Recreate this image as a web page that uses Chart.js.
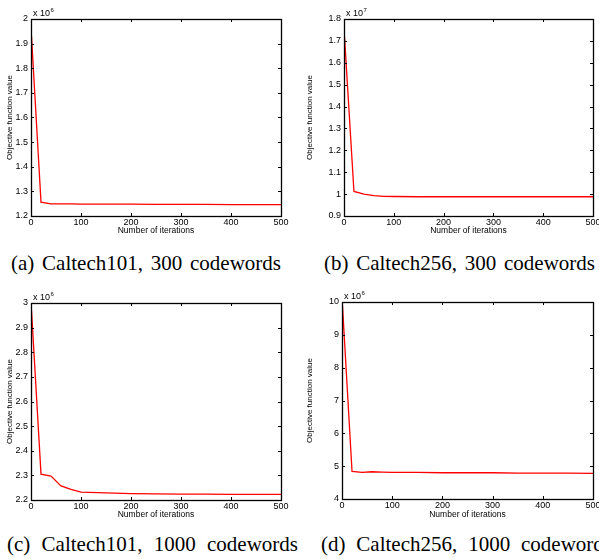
<!DOCTYPE html>
<html>
<head>
<meta charset="utf-8">
<script src="https://cdn.jsdelivr.net/npm/chart.js@4.4.1/dist/chart.umd.min.js"></script>
<style>
  html, body { margin: 0; padding: 0; background: #fff; }
  body { width: 599px; height: 559px; position: relative; overflow: hidden; }
  .panel { position: absolute; }
  .cap { position: absolute; font-family: "Liberation Serif", "Times New Roman", serif; font-size: 21px; line-height: 21px; color: #000; white-space: nowrap; }
</style>
</head>
<body>
<div class="panel" style="left:0;top:0;width:300px;height:245px"><canvas id="chartA"></canvas></div>
<div class="panel" style="left:300px;top:0;width:299px;height:245px"><canvas id="chartB"></canvas></div>
<div class="panel" style="left:0;top:284px;width:300px;height:245px"><canvas id="chartC"></canvas></div>
<div class="panel" style="left:300px;top:284px;width:299px;height:245px"><canvas id="chartD"></canvas></div>
<div class="cap" id="capA" style="left:11px;top:253px">(a) Caltech101, 300 codewords</div>
<div class="cap" id="capB" style="left:324px;top:253px">(b) Caltech256, 300 codewords</div>
<div class="cap" id="capC" style="left:7px;top:534px">(c) Caltech101, 1000 codewords</div>
<div class="cap" id="capD" style="left:321px;top:534px">(d) Caltech256, 1000 codewords</div>
<script>
// iteraciones (eje x)
const iterations = [1, 20, 40, 60, 80, 100, 150, 200, 250, 300, 350, 400, 450, 500];
const xTicks = [0, 100, 200, 300, 400, 500];

// valores de la funcion objetivo, en unidades del exponente de cada panel
const caltech101_300 = [1.931, 1.256, 1.249, 1.249, 1.249, 1.248, 1.248, 1.248, 1.247, 1.247, 1.247, 1.246, 1.246, 1.246]; // x 10^6
const caltech256_300 = [1.72, 1.012, 1.000, 0.993, 0.990, 0.989, 0.988, 0.988, 0.988, 0.988, 0.988, 0.988, 0.988, 0.988];   // x 10^7
const caltech101_1000 = [2.970, 2.305, 2.297, 2.257, 2.243, 2.232, 2.229, 2.226, 2.225, 2.224, 2.224, 2.223, 2.223, 2.223]; // x 10^6
const caltech256_1000 = [9.88, 4.84, 4.81, 4.83, 4.82, 4.81, 4.81, 4.80, 4.80, 4.80, 4.79, 4.79, 4.79, 4.78];             // x 10^6

// ticks del eje y
const ticksA = [1.2, 1.3, 1.4, 1.5, 1.6, 1.7, 1.8, 1.9, 2];
const ticksB = [0.9, 1, 1.1, 1.2, 1.3, 1.4, 1.5, 1.6, 1.7, 1.8];
const ticksC = [2.2, 2.3, 2.4, 2.5, 2.6, 2.7, 2.8, 2.9, 3];
const ticksD = [4, 5, 6, 7, 8, 9, 10];

Chart.defaults.font.family = "'Liberation Sans', Arial, sans-serif";
Chart.defaults.color = '#000';

// ajustar el espaciado de las leyendas al ancho del original
function fitCaption(id, width) {
    const el = document.getElementById(id);
    const natural = el.getBoundingClientRect().width;
    const spaces = el.textContent.split(' ').length - 1;
    el.style.wordSpacing = ((width - natural) / spaces) + 'px';
}
fitCaption('capA', 270);
fitCaption('capB', 271);
fitCaption('capC', 291);
fitCaption('capD', 291);

// marco estilo MATLAB con ticks hacia dentro y el exponente arriba
const matlabFrame = {
    id: 'matlabFrame',
    afterDraw(chart, args, opts) {
        const ctx = chart.ctx;
        const { left, right, top, bottom } = chart.chartArea;
        const xs = chart.scales.x, ys = chart.scales.y;
        const len = 3;
        ctx.save();
        ctx.strokeStyle = '#000';
        ctx.lineWidth = 1;
        ctx.beginPath();
        xs.ticks.forEach((t, i) => {
            const px = Math.round(xs.getPixelForTick(i)) + 0.5;
            ctx.moveTo(px, bottom); ctx.lineTo(px, bottom - len);
            ctx.moveTo(px, top); ctx.lineTo(px, top + len);
        });
        ys.ticks.forEach((t, i) => {
            const py = Math.round(ys.getPixelForTick(i)) + 0.5;
            ctx.moveTo(left, py); ctx.lineTo(left + len, py);
            ctx.moveTo(right, py); ctx.lineTo(right - len, py);
        });
        ctx.stroke();
        ctx.lineWidth = 1.3;
        ctx.strokeRect(Math.round(left) + 0.5, Math.round(top) + 0.5, Math.round(right - left), Math.round(bottom - top));
        // exponente
        ctx.fillStyle = '#000';
        ctx.textBaseline = 'alphabetic';
        ctx.font = "9px 'Liberation Sans', Arial, sans-serif";
        ctx.fillText('x 10', left + 2, top - 3);
        const w = ctx.measureText('x 10').width;
        ctx.font = "6px 'Liberation Sans', Arial, sans-serif";
        ctx.fillText(opts.exponent, left + 2 + w + 0.5, top - 7);
        ctx.restore();
    }
};

function makePanel(id, values, yTicks, exponent, area) {
    const canvas = document.getElementById(id);
    const box = canvas.parentNode;
    const W = box.clientWidth, H = box.clientHeight;
    return new Chart(canvas, {
        type: 'line',
        data: {
            datasets: [{
                data: iterations.map((x, i) => ({ x: x, y: values[i] })),
                borderColor: '#ff0000',
                borderWidth: 1.3,
                pointRadius: 0,
                tension: 0,
                fill: false
            }]
        },
        options: {
            responsive: true,
            maintainAspectRatio: false,
            animation: false,
            events: [],
            layout: { padding: { top: area.top, right: W - area.right, left: 0, bottom: 0 } },
            plugins: { legend: { display: false }, tooltip: { enabled: false }, matlabFrame: { exponent: exponent } },
            scales: {
                x: {
                    type: 'linear',
                    min: 0, max: 500,
                    afterBuildTicks: s => { s.ticks = xTicks.map(v => ({ value: v })); },
                    afterFit: s => { s.height = H - area.bottom; s.paddingLeft = 0; s.paddingRight = 0; },
                    grid: { display: false, drawTicks: false },
                    border: { display: false },
                    ticks: { padding: 1, font: { size: 9 }, maxRotation: 0, autoSkip: false },
                    title: { display: true, text: 'Number of iterations', font: { size: 8.5 }, padding: { top: 0, bottom: 9 } }
                },
                y: {
                    min: yTicks[0], max: yTicks[yTicks.length - 1],
                    afterBuildTicks: s => { s.ticks = yTicks.map(v => ({ value: v })); },
                    afterFit: s => { s.width = area.left; s.paddingTop = 0; s.paddingBottom = 0; },
                    grid: { display: false, drawTicks: false },
                    border: { display: false },
                    ticks: { padding: 3, font: { size: 9 }, autoSkip: false, callback: v => String(Math.round(v * 10) / 10) },
                    title: { display: true, text: 'Objective function value', font: { size: 8 }, padding: { top: 5, bottom: 0 } }
                }
            }
        },
        plugins: [matlabFrame]
    });
}

makePanel('chartA', caltech101_300, ticksA, '6', { left: 31, top: 19, right: 281, bottom: 216 });
makePanel('chartB', caltech256_300, ticksB, '7', { left: 44, top: 19, right: 293, bottom: 216 });
makePanel('chartC', caltech101_1000, ticksC, '6', { left: 31, top: 19, right: 281, bottom: 216 });
makePanel('chartD', caltech256_1000, ticksD, '6', { left: 42, top: 18, right: 293, bottom: 215 });
</script>
</body>
</html>
